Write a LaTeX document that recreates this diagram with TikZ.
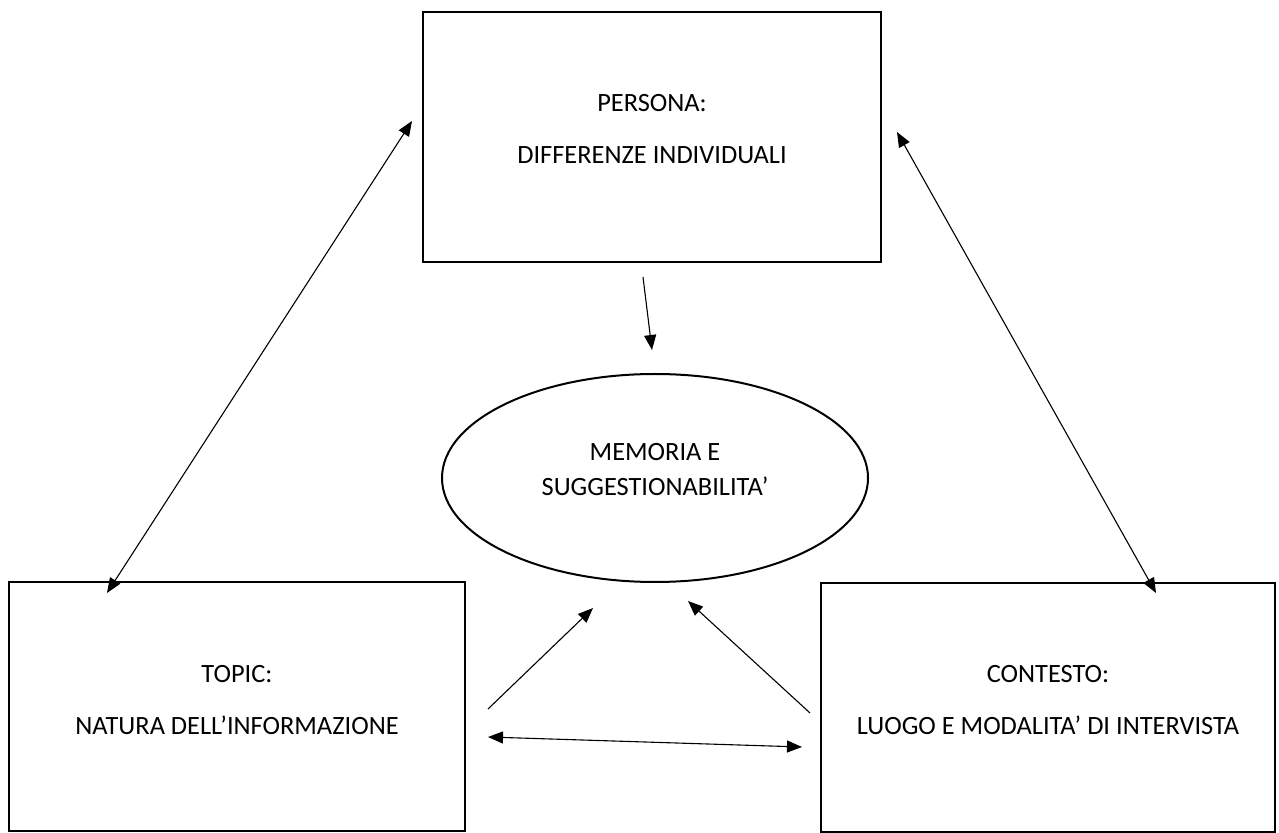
\documentclass[tikz,border=0pt]{standalone}
\usepackage{fontspec}
\setmainfont{Carlito}
\usetikzlibrary{arrows.meta,shapes.geometric}
\begin{document}
\begin{tikzpicture}[x=0.5pt,y=-0.5pt,
  box/.style={draw,line width=1.25pt,inner sep=0pt,rectangle},
  oval/.style={draw,line width=1pt,ellipse,inner sep=0pt,minimum width=213pt,minimum height=104pt},
  boxtext/.style={align=center,inner sep=0pt,font=\fontsize{13.2}{26}\selectfont},
  ovaltext/.style={align=center,inner sep=0pt,font=\fontsize{13.2}{17.5}\selectfont},
  conn/.style={line width=0.55pt,-{Triangle[length=7.5pt,width=6pt]}},
  dconn/.style={line width=0.55pt,{Triangle[length=7.5pt,width=6pt]}-{Triangle[length=7.5pt,width=6pt]}}
]
\useasboundingbox (0,0) rectangle (1279,833);
% boxes
\node[box,minimum width=229pt,minimum height=125pt] (persona) at (652,137) {};
\node[boxtext] (personat) at (652,129) {PERSONA:\\DIFFERENZE INDIVIDUALI};
\node[box,minimum width=228pt,minimum height=124.5pt] (topic) at (237,706.5) {};
\node[boxtext] (topict) at (237,700) {TOPIC:\\NATURA DELL’INFORMAZIONE};
\node[box,minimum width=227pt,minimum height=124.5pt] (contesto) at (1048,707.5) {};
\node[boxtext] (contestot) at (1048,700) {CONTESTO:\\LUOGO E MODALITA’ DI INTERVISTA};
% ellipse
\node[oval] (memoria) at (655,478) {};
\node[ovaltext] (memoriat) at (655,470) {MEMORIA E\\SUGGESTIONABILITA’};
% connector end points
\coordinate (tpA) at (107,593);
\coordinate (tpB) at (412,121);
\coordinate (pcA) at (897,132);
\coordinate (pcB) at (1156,593);
\coordinate (pmA) at (643,277);
\coordinate (pmB) at (652,350);
\coordinate (tmA) at (488,709);
\coordinate (tmB) at (593,608);
\coordinate (cmA) at (810,713);
\coordinate (cmB) at (688,601);
\coordinate (tcA) at (488,737);
\coordinate (tcB) at (802,747);
% connectors
\draw[dconn] (tpA) -- (tpB);
\draw[dconn] (pcA) -- (pcB);
\draw[conn] (pmA) -- (pmB);
\draw[conn] (tmA) -- (tmB);
\draw[conn] (cmA) -- (cmB);
\draw[dconn] (tcA) -- (tcB);
\end{tikzpicture}
\end{document}
